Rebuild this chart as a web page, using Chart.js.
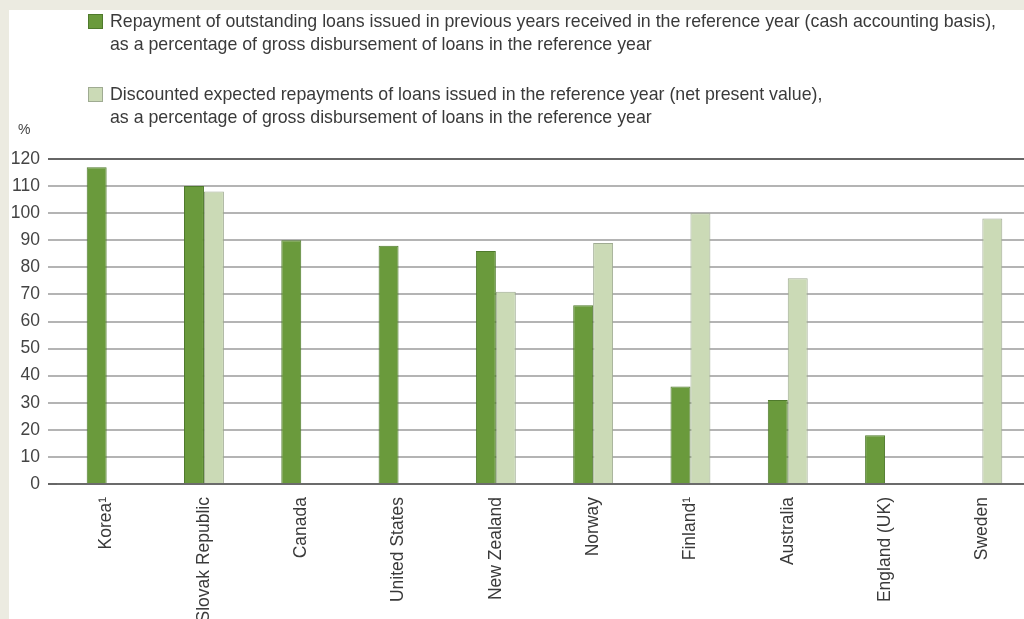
<!DOCTYPE html>
<html>
<head>
<meta charset="utf-8">
<script src="https://cdn.jsdelivr.net/npm/chart.js@4/dist/chart.umd.min.js"></script>
<style>
  html, body { margin: 0; padding: 0; width: 1024px; height: 619px; overflow: hidden; background: #ecebe1; }
  #panel { position: absolute; left: 9px; top: 10px; width: 1100px; height: 609px; background: #ffffff; }
  #wrap { position: absolute; left: 9px; top: 10px; width: 1022px; height: 609px; }
  .leg { position: absolute; left: 110px; font-family: "Liberation Sans", Arial, sans-serif; font-size: 17.75px; line-height: 23px; color: #3a3a3a; white-space: nowrap; }
  .box { position: absolute; left: 88px; width: 13px; height: 13px; }
  #pct { position: absolute; left: 18px; top: 121px; font-family: "Liberation Sans", Arial, sans-serif; font-size: 14px; color: #444; }
</style>
</head>
<body>
<div id="panel"></div>
<div id="wrap"><canvas id="c" width="1022" height="609"></canvas></div>
<div class="box" style="top:14px;background:#6a9a3c;border:1px solid #4f7a2c;"></div>
<div class="leg" style="top:10px;">Repayment of outstanding loans issued in previous years received in the reference year (cash accounting basis),<br>as a percentage of gross disbursement of loans in the reference year</div>
<div class="box" style="top:87px;background:#cbdab6;border:1px solid #9fab92;"></div>
<div class="leg" style="top:83px;">Discounted expected repayments of loans issued in the reference year (net present value),<br>as a percentage of gross disbursement of loans in the reference year</div>
<div id="pct">%</div>
<script>
const categories = ["Korea¹", "Slovak Republic", "Canada", "United States", "New Zealand", "Norway", "Finland¹", "Australia", "England (UK)", "Sweden"];
const cashRepayment = [117, 110, 90, 88, 86, 66, 36, 31, 18, null];
const discountedRepayment = [null, 108, null, null, 71, 89, 100, 76, null, 98];
const seriesNames = [
  "Repayment of outstanding loans issued in previous years received in the reference year (cash accounting basis), as a percentage of gross disbursement of loans in the reference year",
  "Discounted expected repayments of loans issued in the reference year (net present value), as a percentage of gross disbursement of loans in the reference year"
];
const yTicks = [0, 10, 20, 30, 40, 50, 60, 70, 80, 90, 100, 110, 120];

const font = { family: "'Liberation Sans', Arial, sans-serif", size: 17.5 };

new Chart(document.getElementById('c'), {
  type: 'bar',
  data: {
    labels: categories,
    datasets: [
      { label: seriesNames[0], data: cashRepayment, backgroundColor: '#6a9a3c', borderColor: '#4f7a2c', borderWidth: 1 },
      { label: seriesNames[1], data: discountedRepayment, backgroundColor: '#cbdab6', borderColor: '#9fab92', borderWidth: 1 }
    ]
  },
  options: {
    responsive: false,
    animation: false,
    layout: { padding: { top: 149, right: 0, bottom: 0, left: 0 } },
    datasets: { bar: { categoryPercentage: 0.41, barPercentage: 1.0 } },
    plugins: { legend: { display: false }, tooltip: { enabled: false } },
    scales: {
      x: {
        grid: { display: false },
        border: { display: true, color: '#6b6b6b', width: 2 },
        ticks: { color: '#3a3a3a', font: font, minRotation: 90, maxRotation: 90, autoSkip: false, padding: 5 },
        afterFit: (s) => { s.height = 135; }
      },
      y: {
        min: 0, max: 120,
        afterBuildTicks: (s) => { s.ticks = yTicks.map(v => ({ value: v })); },
        grid: {
          color: (ctx) => (ctx.tick && (ctx.tick.value === 120 || ctx.tick.value === 0)) ? '#666666' : '#b4b4b4',
          lineWidth: 2,
          tickLength: 10,
          drawTicks: true
        },
        border: { display: false },
        ticks: { color: '#444444', font: font, padding: 8 },
        afterFit: (s) => { s.width = 49; }
      }
    }
  }
});
</script>
</body>
</html>
